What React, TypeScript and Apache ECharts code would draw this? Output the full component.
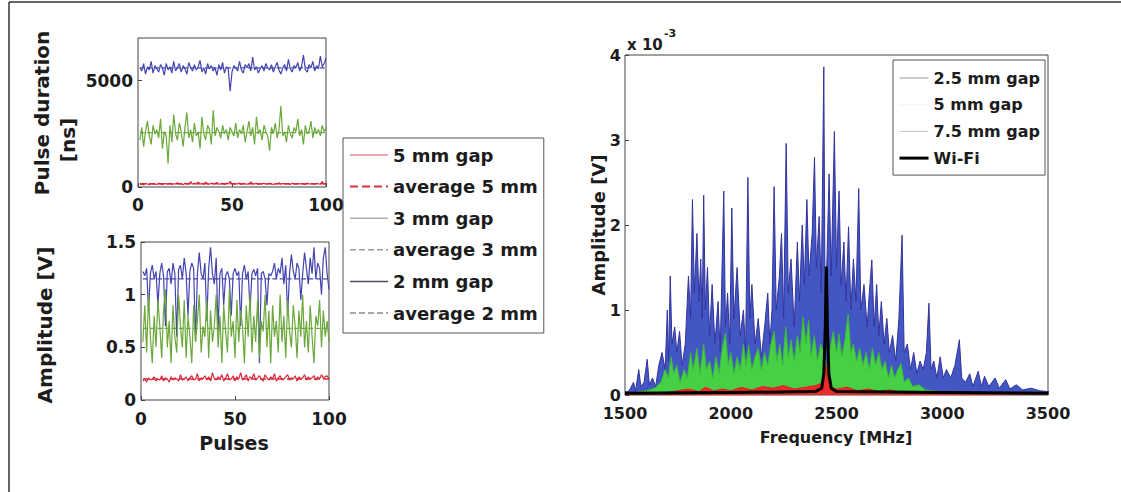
import React, { useEffect, useRef } from "react";
import * as echarts from "echarts";

// ---------- Left panels: pulses 1..100 ----------
const pulseTicks = [0, 50, 100];

const durRed5mm = [120,150,100,170,140,110,160,130,150,120,180,140,110,160,150,130,170,120,150,140,200,130,160,110,180,150,140,250,130,170,150,220,140,160,120,230,150,130,180,140,160,210,130,150,170,120,180,140,260,150,130,160,140,190,120,170,150,130,160,240,140,150,170,120,160,150,180,130,140,170,150,120,160,140,200,130,170,150,140,160,120,180,150,130,170,140,160,150,120,180,140,150,160,130,170,150,140,250,130,160];
const durGreen3mm = [2200,2800,1900,2600,3100,2400,2000,2900,2500,2700,2300,3200,1800,2600,2400,1100,2900,2100,3400,2500,2200,3000,2600,1900,2800,3500,2300,2700,2100,3000,2400,2600,1800,3300,2500,2200,2900,2700,2000,3600,2400,2800,2600,2300,2900,2500,2700,2200,2800,2600,2400,3000,2300,2700,2500,2900,2100,2600,3100,2400,2800,2000,3300,2500,2700,2200,2900,2600,2400,1700,2800,2500,3000,2300,2700,3800,2400,2600,2100,2900,2500,2300,2800,2600,3200,2400,2700,2000,2900,2500,2600,3100,2300,2800,2500,2700,2400,2900,2600,2800];
const durBlue2mm = [5600,5450,5800,5300,5650,5500,5900,5350,5700,5550,5400,5750,5600,5250,5800,5500,5650,5350,5900,5450,5600,5800,5400,5700,5550,5300,5850,5600,5450,5750,5500,5650,5950,5400,5600,5300,5800,5550,5700,5450,5600,5250,5750,5500,5850,5350,5650,5550,4500,5400,5700,5600,5450,5900,5500,5350,5750,5600,5800,5450,6100,5500,5650,5350,5550,5700,5450,5800,5600,5500,5750,5400,5650,5850,5500,5300,5600,5750,5450,6000,5550,5400,5700,5600,5850,5450,5650,6200,5500,5400,5750,5600,5900,5450,5700,5550,6150,5650,5800,6050];
const durAverages = { red: 150, green: 2550, blue: 5600 };

const ampRed5mm = [0.18,0.2,0.17,0.21,0.19,0.2,0.22,0.18,0.2,0.19,0.23,0.18,0.21,0.2,0.17,0.22,0.19,0.21,0.2,0.18,0.24,0.19,0.2,0.22,0.18,0.21,0.23,0.19,0.2,0.25,0.18,0.21,0.2,0.23,0.19,0.22,0.18,0.26,0.2,0.19,0.22,0.2,0.24,0.18,0.21,0.25,0.19,0.2,0.23,0.18,0.22,0.2,0.26,0.19,0.21,0.24,0.18,0.22,0.2,0.25,0.19,0.21,0.23,0.2,0.18,0.24,0.21,0.19,0.22,0.2,0.25,0.18,0.21,0.23,0.19,0.2,0.22,0.24,0.19,0.21,0.2,0.23,0.18,0.22,0.2,0.21,0.24,0.19,0.22,0.2,0.21,0.23,0.19,0.22,0.2,0.24,0.21,0.22,0.23,0.2];
const ampGreen3mm = [0.55,0.9,0.45,1.0,0.6,0.35,0.8,0.5,0.95,0.7,0.4,0.85,1.05,0.5,0.75,0.35,0.9,0.6,0.45,1.0,0.7,0.5,0.95,0.4,0.8,0.6,0.35,0.9,0.55,0.75,1.0,0.45,0.7,0.6,0.95,0.4,0.85,0.55,0.7,1.0,0.5,0.8,0.35,0.9,0.65,0.45,1.05,0.6,0.75,0.4,0.95,0.55,0.85,0.7,0.35,0.9,0.6,1.0,0.45,0.8,0.55,0.95,0.4,0.75,0.65,1.0,0.5,0.85,0.35,0.9,0.6,0.75,0.45,1.0,0.55,0.8,0.4,0.95,0.65,0.5,0.9,0.7,0.4,0.85,0.6,1.0,0.5,0.75,0.45,0.9,0.6,0.35,0.8,0.7,0.95,0.5,0.85,0.6,0.75,0.55];
const ampBlue2mm = [1.22,1.18,1.25,0.85,1.2,1.28,1.15,1.22,0.9,1.2,1.3,1.18,0.7,1.22,1.25,1.1,1.3,1.2,0.6,1.24,1.28,1.15,1.35,1.2,0.8,1.22,1.3,1.25,0.55,1.2,1.4,1.2,1.15,1.3,0.75,1.25,1.45,1.2,1.1,1.35,0.65,1.2,1.25,0.9,1.18,1.22,1.15,0.8,1.2,1.25,1.18,1.22,0.7,1.2,1.28,1.15,1.22,0.85,1.2,1.24,1.18,1.25,0.35,1.2,1.22,1.15,0.9,1.2,1.18,1.22,1.3,1.15,1.25,1.2,1.35,1.1,1.28,0.8,1.2,1.38,1.22,1.15,1.3,1.25,0.95,1.2,1.4,1.25,1.1,1.35,1.2,1.45,1.15,1.3,1.25,1.0,1.35,1.45,1.2,1.05];
const ampAverages = { red: 0.2, green: 0.68, blue: 1.15 };

const leftLegendNames = ["5 mm gap", "average 5 mm", "3 mm gap", "average 3 mm", "2 mm gap", "average 2 mm"];

// ---------- Right panel: spectrum (values in units of 1e-3 V) ----------
const freqTicks = [1500, 2000, 2500, 3000, 3500];
const ampTicks = [0, 1, 2, 3, 4];

const specBlueFreq = [1500,1520,1540,1550,1565,1575,1590,1605,1615,1630,1645,1660,1675,1690,1700,1706,1714,1722,1735,1745,1758,1770,1785,1800,1810,1819,1828,1840,1850,1858,1865,1872,1880,1890,1900,1912,1925,1940,1950,1967,1975,1985,1995,2005,2015,2030,2045,2060,2070,2081,2090,2100,2115,2130,2145,2160,2175,2185,2195,2205,2215,2230,2240,2250,2262,2272,2285,2300,2315,2325,2338,2348,2360,2370,2385,2396,2405,2418,2428,2440,2446,2455,2465,2475,2490,2500,2512,2522,2535,2545,2557,2568,2580,2592,2605,2615,2630,2645,2655,2667,2678,2690,2700,2712,2725,2738,2750,2765,2780,2795,2810,2820,2835,2850,2865,2880,2895,2910,2925,2937,2947,2960,2975,2990,3005,3020,3040,3060,3081,3092,3110,3130,3145,3170,3185,3200,3220,3250,3270,3300,3320,3350,3380,3420,3460,3500];
const specBlueAmp = [0.03,0.05,0.15,0.05,0.3,0.1,0.15,0.42,0.12,0.2,0.1,0.35,0.5,0.3,1.0,0.4,1.4,0.6,0.8,0.5,0.75,0.35,0.6,1.4,0.9,2.3,1.2,1.9,1.1,1.6,0.9,2.35,1.0,1.5,0.7,1.3,0.6,1.1,0.5,2.4,0.8,1.2,0.6,2.2,0.9,1.5,0.7,1.0,0.5,2.56,0.9,1.3,0.6,0.9,0.45,0.8,1.2,0.6,1.0,2.45,1.0,1.4,1.9,0.9,2.96,1.2,1.6,0.8,1.8,1.1,2.0,1.3,2.3,1.4,1.9,2.8,1.5,2.1,1.2,3.86,1.0,1.6,2.6,1.4,3.1,1.5,2.4,1.3,1.8,1.1,1.98,1.0,1.6,1.1,2.43,1.0,1.3,0.8,1.2,1.59,0.8,1.3,0.7,1.1,0.6,0.9,0.5,0.7,0.4,0.9,1.88,0.5,0.6,0.3,0.5,0.25,0.4,0.3,0.5,1.08,0.3,0.4,0.2,0.45,0.2,0.3,0.2,0.35,0.65,0.2,0.15,0.25,0.1,0.28,0.1,0.22,0.1,0.2,0.08,0.18,0.07,0.12,0.06,0.08,0.05,0.04];

const specGreenFreq = [1500,1550,1600,1640,1670,1690,1705,1718,1730,1745,1760,1780,1795,1810,1822,1840,1855,1872,1885,1900,1915,1930,1945,1960,1975,1988,2000,2015,2030,2045,2060,2072,2085,2100,2115,2130,2145,2160,2175,2190,2205,2218,2232,2245,2260,2272,2285,2300,2315,2328,2342,2355,2368,2380,2395,2410,2425,2440,2455,2470,2485,2500,2512,2525,2540,2555,2568,2580,2595,2610,2625,2640,2655,2670,2685,2700,2715,2730,2745,2760,2775,2790,2805,2820,2840,2860,2890,2920,2960,3000,3100,3500];
const specGreenAmp = [0.01,0.03,0.05,0.08,0.15,0.3,0.2,0.45,0.25,0.35,0.15,0.3,0.2,0.5,0.3,0.55,0.25,0.6,0.3,0.4,0.2,0.45,0.25,0.55,0.73,0.35,0.5,0.25,0.45,0.3,0.6,0.35,0.58,0.3,0.45,0.55,0.3,0.5,0.35,0.6,0.75,0.4,0.6,0.35,0.8,0.45,0.65,0.4,0.7,0.5,0.92,0.6,0.88,0.45,0.7,0.4,0.6,0.5,0.3,0.55,0.75,0.5,0.72,0.45,0.65,0.95,0.5,0.6,0.4,0.55,0.35,0.5,0.3,0.55,0.35,0.5,0.3,0.4,0.2,0.35,0.2,0.3,0.37,0.15,0.2,0.1,0.12,0.06,0.05,0.03,0.02,0.01];

const specRedFreq = [1500,1600,1700,1750,1800,1850,1880,1920,1960,2000,2050,2100,2150,2200,2250,2300,2350,2400,2430,2445,2450,2458,2470,2500,2550,2600,2650,2700,2750,2800,2850,2900,3000,3500];
const specRedAmp = [0.01,0.02,0.03,0.05,0.07,0.04,0.09,0.05,0.07,0.05,0.09,0.06,0.1,0.08,0.11,0.07,0.09,0.11,0.14,0.25,0.35,0.2,0.1,0.07,0.09,0.05,0.07,0.04,0.06,0.03,0.04,0.02,0.02,0.01];

const wifiFreq = [1500,2000,2400,2430,2440,2447,2452,2457,2464,2475,2500,3000,3500];
const wifiAmp = [0.02,0.03,0.04,0.08,0.25,0.8,1.51,0.8,0.25,0.08,0.04,0.03,0.02];

const rightLegendNames = ["2.5 mm gap", "5 mm gap ", "7.5 mm gap", "Wi-Fi"];

const FONT = "DejaVu Sans";
const TXT = "#1c1c1c";
const C_RED = "#d9283a";
const C_GREEN = "#6aa83a";
const C_BLUE = "#4444b0";

const pairs = (xs: number[], ys: number[]) => xs.map((x, i) => [x, ys[i]]);
const byPulse = (ys: number[]) => ys.map((v, i) => [i + 1, v]);
const flat = (v: number) => [[1, v], [100, v]];

export default function App() {
  const ref = useRef<HTMLDivElement>(null);
  useEffect(() => {
    if (!ref.current) return;
    const chart = echarts.init(ref.current, undefined, { renderer: "svg" });

    const tickLabel = (size: number, margin: number) => ({
      fontFamily: FONT, fontWeight: "bold" as const, fontSize: size, color: TXT, margin,
      formatter: (v: number) => String(v),
    });
    const common = {
      axisLine: { show: false },
      axisTick: { show: true, inside: true, length: 4, lineStyle: { color: "#444" } },
      splitLine: { show: false },
    };

    const leftLine = (name: string, gi: number, data: any, color: string, dashed = false, width = 1.2) => ({
      type: "line", name, xAxisIndex: gi, yAxisIndex: gi, data, symbol: "none",
      lineStyle: { color, width, type: dashed ? "dashed" : "solid" },
      itemStyle: { color },
    });

    const series: any[] = [
      leftLine("average 2 mm", 0, flat(durAverages.blue), C_BLUE, true),
      leftLine("average 3 mm", 0, flat(durAverages.green), C_GREEN, true),
      leftLine("2 mm gap", 0, byPulse(durBlue2mm), C_BLUE),
      leftLine("3 mm gap", 0, byPulse(durGreen3mm), C_GREEN),
      leftLine("5 mm gap", 0, byPulse(durRed5mm), C_RED),
      leftLine("average 5 mm", 0, flat(durAverages.red), C_RED, true, 1.5),
      leftLine("average 2 mm", 1, flat(ampAverages.blue), C_BLUE, true),
      leftLine("average 3 mm", 1, flat(ampAverages.green), C_GREEN, true),
      leftLine("2 mm gap", 1, byPulse(ampBlue2mm), C_BLUE),
      leftLine("3 mm gap", 1, byPulse(ampGreen3mm), C_GREEN),
      leftLine("5 mm gap", 1, byPulse(ampRed5mm), C_RED),
      leftLine("average 5 mm", 1, flat(ampAverages.red), C_RED, true, 1.5),
      {
        type: "line", name: "2.5 mm gap", xAxisIndex: 2, yAxisIndex: 2, symbol: "none",
        data: pairs(specBlueFreq, specBlueAmp),
        lineStyle: { color: "#33339c", width: 1 }, itemStyle: { color: "#33339c" },
        areaStyle: { color: "#4256c4", opacity: 1 },
      },
      {
        type: "line", name: "5 mm gap ", xAxisIndex: 2, yAxisIndex: 2, symbol: "none",
        data: pairs(specGreenFreq, specGreenAmp),
        lineStyle: { color: "#3bb83b", width: 1 }, itemStyle: { color: "#3bb83b" },
        areaStyle: { color: "#46d046", opacity: 1 },
      },
      {
        type: "line", name: "7.5 mm gap", xAxisIndex: 2, yAxisIndex: 2, symbol: "none",
        data: pairs(specRedFreq, specRedAmp),
        lineStyle: { color: "#e01e1e", width: 1 }, itemStyle: { color: "#e01e1e" },
        areaStyle: { color: "#ee2a2a", opacity: 1 },
      },
      {
        type: "line", name: "Wi-Fi", xAxisIndex: 2, yAxisIndex: 2, symbol: "none",
        data: pairs(wifiFreq, wifiAmp),
        lineStyle: { color: "#000", width: 3 }, itemStyle: { color: "#000" },
      },
    ];

    const leftLegendStyles: Record<string, any> = {
      "5 mm gap": { color: "#ec8a94", width: 1.5, type: "solid" },
      "average 5 mm": { color: "#d63046", width: 2, type: "dashed" },
      "3 mm gap": { color: "#a8b0a8", width: 1.5, type: "solid" },
      "average 3 mm": { color: "#9a9a9a", width: 1.5, type: "dashed" },
      "2 mm gap": { color: "#505064", width: 1.5, type: "solid" },
      "average 2 mm": { color: "#8c8c8c", width: 1.5, type: "dashed" },
    };
    const rightLegendStyles: Record<string, any> = {
      "2.5 mm gap": { color: "#9a9aa0", width: 1, type: "solid" },
      "5 mm gap ": { color: "#f4f4f4", width: 1, type: "solid" },
      "7.5 mm gap": { color: "#c4c4c4", width: 1, type: "solid" },
      "Wi-Fi": { color: "#000", width: 3, type: "solid" },
    };
    const hiddenSymbol = { color: "rgba(0,0,0,0)", borderWidth: 0, opacity: 0 };

    const option: any = {
      animation: false,
      backgroundColor: "#fff",
      grid: [
        { left: 138, top: 38, width: 188, height: 149, show: true, borderColor: "#444", borderWidth: 1, backgroundColor: "transparent" },
        { left: 141, top: 242, width: 188, height: 158, show: true, borderColor: "#444", borderWidth: 1, backgroundColor: "transparent" },
        { left: 625, top: 55, width: 423, height: 340, show: true, borderColor: "#444", borderWidth: 1, backgroundColor: "transparent" },
      ],
      xAxis: [
        { type: "value", gridIndex: 0, min: pulseTicks[0], max: pulseTicks[2], interval: 50, ...common, axisLabel: tickLabel(17, 9) },
        { type: "value", gridIndex: 1, min: pulseTicks[0], max: pulseTicks[2], interval: 50, ...common, axisLabel: tickLabel(17, 10) },
        { type: "value", gridIndex: 2, min: freqTicks[0], max: freqTicks[freqTicks.length - 1], interval: 500, ...common, axisLabel: tickLabel(16, 10) },
      ],
      yAxis: [
        { type: "value", gridIndex: 0, min: 0, max: 7000, interval: 5000, ...common, axisLabel: { ...tickLabel(17, 5), showMaxLabel: false } },
        { type: "value", gridIndex: 1, min: 0, max: 1.5, interval: 0.5, ...common, axisLabel: tickLabel(17, 5) },
        { type: "value", gridIndex: 2, min: ampTicks[0], max: ampTicks[ampTicks.length - 1], interval: 1, ...common, axisLabel: tickLabel(16, 4) },
      ],
      legend: [
        {
          orient: "vertical", left: 343, top: 138, selectedMode: false,
          borderColor: "#555", borderWidth: 1, borderRadius: 0, padding: [7, 6, 10, 6],
          itemWidth: 38, itemHeight: 14, itemGap: 11.6, itemTextGap: 3,
          textStyle: { fontFamily: FONT, fontWeight: "bold", fontSize: 18, color: TXT, lineHeight: 20 },
          data: leftLegendNames.map((n) => ({ name: n, lineStyle: leftLegendStyles[n], itemStyle: hiddenSymbol })),
        },
        {
          orient: "vertical", left: 893, top: 60, selectedMode: false,
          borderColor: "#555", borderWidth: 1, borderRadius: 0, padding: [9, 5, 8, 5],
          itemWidth: 29, itemHeight: 12, itemGap: 8.7, itemTextGap: 3,
          backgroundColor: "#fff",
          textStyle: { fontFamily: FONT, fontWeight: "bold", fontSize: 16, color: TXT, lineHeight: 18 },
          data: rightLegendNames.map((n) => ({ name: n, lineStyle: rightLegendStyles[n], itemStyle: hiddenSymbol })),
        },
      ],
      graphic: [
        { type: "line", shape: { x1: 9, y1: 2, x2: 9, y2: 492 }, style: { stroke: "#333", lineWidth: 1.5 } },
        { type: "line", shape: { x1: 9, y1: 2, x2: 1121, y2: 2 }, style: { stroke: "#333", lineWidth: 1.5 } },
        { type: "text", x: 42, y: 113, rotation: Math.PI / 2, style: { text: "Pulse duration", font: `bold 20px "${FONT}"`, fill: TXT, textAlign: "center", textVerticalAlign: "middle" } },
        { type: "text", x: 68, y: 140, rotation: Math.PI / 2, style: { text: "[ns]", font: `bold 20px "${FONT}"`, fill: TXT, textAlign: "center", textVerticalAlign: "middle" } },
        { type: "text", x: 45, y: 325, rotation: Math.PI / 2, style: { text: "Amplitude [V]", font: `bold 20px "${FONT}"`, fill: TXT, textAlign: "center", textVerticalAlign: "middle" } },
        { type: "text", x: 234, y: 443, style: { text: "Pulses", font: `bold 19px "${FONT}"`, fill: TXT, textAlign: "center", textVerticalAlign: "middle" } },
        { type: "text", x: 598, y: 225, rotation: Math.PI / 2, style: { text: "Amplitude [V]", font: `bold 18px "${FONT}"`, fill: TXT, textAlign: "center", textVerticalAlign: "middle" } },
        { type: "text", x: 836, y: 437, style: { text: "Frequency [MHz]", font: `bold 16px "${FONT}"`, fill: TXT, textAlign: "center", textVerticalAlign: "middle" } },
        { type: "text", x: 627, y: 45, style: { text: "x 10", font: `bold 15px "${FONT}"`, fill: TXT, textAlign: "left", textVerticalAlign: "middle" } },
        { type: "text", x: 664, y: 33, style: { text: "-3", font: `bold 11px "${FONT}"`, fill: TXT, textAlign: "left", textVerticalAlign: "middle" } },
      ],
      series,
    };
    chart.setOption(option);
    return () => chart.dispose();
  }, []);
  return <div ref={ref} style={{ position: "fixed", left: 0, top: 0, width: 1121, height: 492, background: "#fff" }} />;
}
